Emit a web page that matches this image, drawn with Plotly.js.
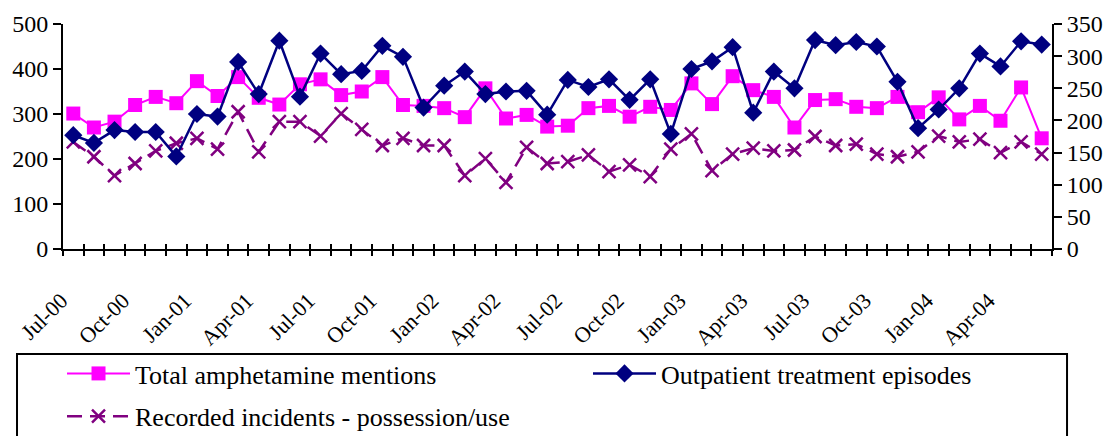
<!DOCTYPE html>
<html><head><meta charset="utf-8">
<script src="https://cdn.plot.ly/plotly-3.0.1.min.js"></script>
<style>html,body{margin:0;padding:0;background:#fff}#chart{width:1116px;height:436px}</style>
</head><body><div id="chart"></div>
<script>
const months = ["Jul-00","Aug-00","Sep-00","Oct-00","Nov-00","Dec-00","Jan-01","Feb-01","Mar-01","Apr-01","May-01","Jun-01",
"Jul-01","Aug-01","Sep-01","Oct-01","Nov-01","Dec-01","Jan-02","Feb-02","Mar-02","Apr-02","May-02","Jun-02",
"Jul-02","Aug-02","Sep-02","Oct-02","Nov-02","Dec-02","Jan-03","Feb-03","Mar-03","Apr-03","May-03","Jun-03",
"Jul-03","Aug-03","Sep-03","Oct-03","Nov-03","Dec-03","Jan-04","Feb-04","Mar-04","Apr-04","May-04","Jun-04"];
const shownTicks = ["Jul-00","Oct-00","Jan-01","Apr-01","Jul-01","Oct-01","Jan-02","Apr-02","Jul-02","Oct-02","Jan-03","Apr-03","Jul-03","Oct-03","Jan-04","Apr-04"];
const totalMentions = [301,270,283,320,338,324,373,340,382,336,321,366,377,342,350,382,320,318,313,293,357,290,298,272,274,313,318,294,316,309,368,322,384,353,338,270,331,333,316,313,338,304,337,288,318,285,359,246];
const outpatient = [177,165,185,182,182,144,210,206,291,241,324,237,304,272,277,316,299,220,254,276,241,245,246,209,263,252,264,232,264,179,280,292,314,212,276,250,325,317,322,315,260,188,217,250,304,284,323,318];
const incidents = [238,205,163,190,218,235,246,222,305,216,283,283,251,301,266,230,246,230,230,163,201,148,226,190,194,209,172,187,161,222,256,174,211,224,218,220,250,230,233,211,205,216,251,238,244,214,238,211];

const F = "'Liberation Serif', 'Times New Roman', serif";
const traces = [
  {x: months, y: totalMentions, name: "Total amphetamine mentions", legendgroup: "a", type: "scatter", mode: "lines+markers",
   line: {color: "#FF00FF", width: 2}, marker: {symbol: "square", size: 14, color: "#FF00FF"}, yaxis: "y"},
  {x: months, y: outpatient, name: "Outpatient treatment episodes", legendgroup: "b", type: "scatter", mode: "lines+markers",
   line: {color: "#000080", width: 2.5}, marker: {symbol: "diamond", size: 14, color: "#000080"}, yaxis: "y2"},
  {x: months, y: incidents, name: "Recorded incidents - possession/use", legendgroup: "c", type: "scatter", mode: "lines+markers",
   line: {color: "#800080", width: 2.5, dash: "15px,8px"}, marker: {symbol: "x-thin-open", size: 13, color: "#800080", line: {color: "#800080", width: 2.5}}, yaxis: "y"}
];
const layout = {
  width: 1116, height: 436,
  margin: {l: 63, r: 64, t: 24, b: 187, autoexpand: false},
  paper_bgcolor: "#fff", plot_bgcolor: "#fff",
  font: {family: F, size: 20, color: "#000"},
  showlegend: true,
  xaxis: {type: "category", categoryarray: months, tickmode: "array", tickvals: months,
    ticktext: months.map(m => shownTicks.includes(m) ? m : ""), tickson: "boundaries",
    ticks: "outside", ticklen: 5, tickwidth: 2, tickcolor: "#000", tickangle: -45,
    showline: true, linecolor: "#000", linewidth: 2, showgrid: false, zeroline: false,
    tickfont: {family: F, size: 22}, range: [-0.5, 47.5], ticklabelstandoff: 28, ticklabelshift: -12},
  xaxis2: {overlaying: "x", anchor: "y", side: "bottom", range: [0, 48], tickmode: "linear", tick0: 0, dtick: 1,
    ticks: "inside", ticklen: 5, tickwidth: 2, tickcolor: "#000", showticklabels: false, showline: false, showgrid: false, zeroline: false},
  yaxis: {range: [0, 500], dtick: 100, ticks: "outside", ticklen: 8, tickwidth: 2, tickcolor: "#000",
    showline: true, linecolor: "#000", linewidth: 2, showgrid: false, zeroline: false, tickfont: {family: F, size: 24}},
  yaxis2: {range: [0, 350], dtick: 50, overlaying: "y", side: "right", ticks: "outside", ticklen: 8, tickwidth: 2, tickcolor: "#000",
    showline: true, linecolor: "#000", linewidth: 2, showgrid: false, zeroline: false, tickfont: {family: F, size: 24}},
  legend: {orientation: "h", x: -0.001, xanchor: "left", y: -0.449, yanchor: "top", entrywidth: 448, itemwidth: 63,
    tracegroupgap: 6, font: {family: F, size: 26}, bgcolor: "rgba(0,0,0,0)", borderwidth: 0, traceorder: "grouped"},
  shapes: [{type: "rect", xref: "paper", yref: "paper", x0: -0.0465, x1: 1.0152, y0: -0.4667, y1: -0.86,
    line: {color: "#000", width: 2}, fillcolor: "rgba(0,0,0,0)"}]
};
traces.push({x: [0, 48], y: [null, null], xaxis: "x2", yaxis: "y", showlegend: false, hoverinfo: "skip", mode: "lines"});
Plotly.newPlot("chart", traces, layout, {displayModeBar: false});
</script></body></html>
